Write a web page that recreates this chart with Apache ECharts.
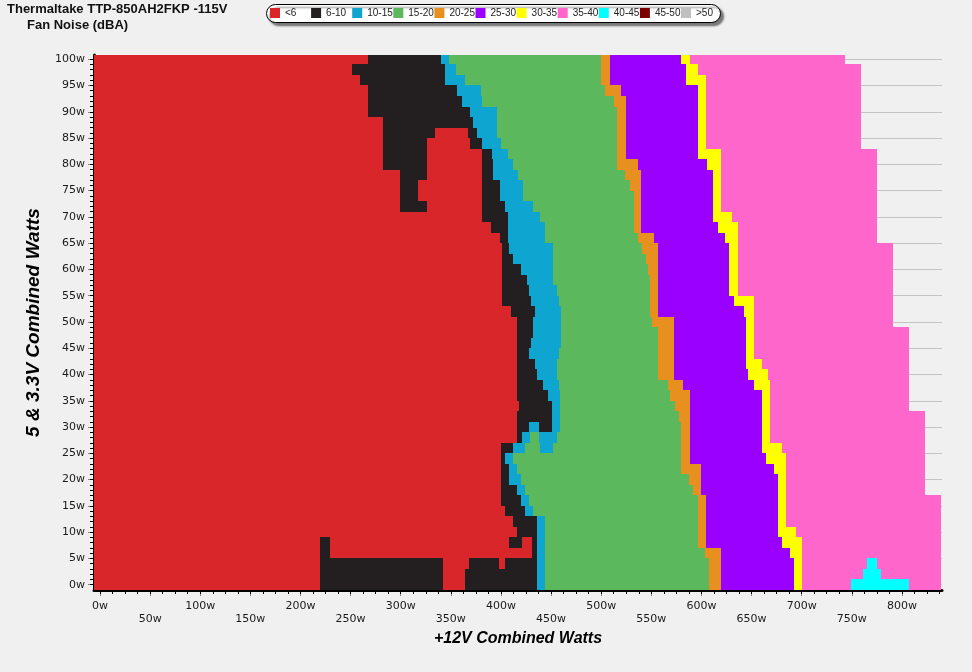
<!DOCTYPE html>
<html>
<head>
<meta charset="utf-8">
<script src="https://cdn.jsdelivr.net/npm/echarts@6/dist/echarts.min.js"></script>
<style>
  html, body { margin: 0; padding: 0; background: #f0f0f0; }
  #noise { width: 972px; height: 672px; }
</style>
</head>
<body>
<div id="noise"></div>
<script>
// noise classes (dBA) and their colours
const cats = ['<6', '6-10', '10-15', '15-20', '20-25', '25-30', '30-35', '35-40', '40-45', '45-50', '>50']
const colors = ['#d9262a', '#231f20', '#0ea5d1', '#5cb85c', '#e8901f', '#9900ff', '#ffff00', '#ff66cc', '#00ffff', '#7b0000', '#c0c0c0']

// tick labels
const xTicks = [0, 50, 100, 150, 200, 250, 300, 350, 400, 450, 500, 550, 600, 650, 700, 750, 800]
const yTicks = [0, 5, 10, 15, 20, 25, 30, 35, 40, 45, 50, 55, 60, 65, 70, 75, 80, 85, 90, 95, 100]

// each row = 5&3.3V load band (centre in W), 2W tall
// runs read left to right: class index, +12V watts where that class ends
const xStart = -6
const rowHeight = 2
const rowLoads = [0, 2, 4, 6, 8, 10, 12, 14, 16, 18, 20, 22, 24, 26, 28, 30, 32, 34, 36, 38, 40, 42, 44, 46, 48, 50,
  52, 54, 56, 58, 60, 62, 64, 66, 68, 70, 72, 74, 76, 78, 80, 82, 84, 86, 88, 90, 92, 94, 96, 98, 100]
const rowRuns = [
  [0, 219, 1, 342, 0, 364, 1, 436, 2, 444, 3, 608, 4, 620, 5, 692, 6, 700, 7, 749, 8, 807, 7, 839],
  [0, 219, 1, 342, 0, 364, 1, 436, 2, 444, 3, 608, 4, 620, 5, 692, 6, 700, 7, 761, 8, 779, 7, 839],
  [0, 219, 1, 342, 0, 368, 1, 398, 0, 404, 1, 436, 2, 444, 3, 608, 4, 620, 5, 692, 6, 700, 7, 765, 8, 775, 7, 839],
  [0, 219, 1, 229, 0, 431, 1, 436, 2, 444, 3, 604, 4, 620, 5, 688, 6, 700, 7, 839],
  [0, 219, 1, 229, 0, 408, 1, 421, 0, 431, 1, 436, 2, 444, 3, 597, 4, 605, 5, 680, 6, 700, 7, 839],
  [0, 416, 1, 436, 2, 444, 3, 597, 4, 605, 5, 676, 6, 694, 7, 839],
  [0, 412, 1, 436, 2, 444, 3, 597, 4, 605, 5, 676, 6, 684, 7, 839],
  [0, 404, 1, 424, 2, 432, 3, 597, 4, 605, 5, 676, 6, 684, 7, 839],
  [0, 400, 1, 420, 2, 428, 3, 597, 4, 605, 5, 676, 6, 684, 7, 839],
  [0, 400, 1, 416, 2, 424, 3, 592, 4, 600, 5, 676, 6, 684, 7, 823],
  [0, 400, 1, 408, 2, 420, 3, 588, 4, 600, 5, 676, 6, 684, 7, 823],
  [0, 400, 1, 408, 2, 416, 3, 580, 4, 600, 5, 672, 6, 684, 7, 823],
  [0, 400, 1, 404, 2, 412, 3, 580, 4, 589, 5, 664, 6, 684, 7, 823],
  [0, 400, 1, 412, 2, 424, 3, 439, 2, 452, 3, 580, 4, 589, 5, 660, 6, 680, 7, 823],
  [0, 416, 1, 421, 2, 429, 3, 438, 2, 456, 3, 580, 4, 589, 5, 660, 6, 668, 7, 823],
  [0, 416, 1, 428, 2, 438, 1, 451, 2, 459, 3, 580, 4, 589, 5, 660, 6, 668, 7, 823],
  [0, 416, 1, 451, 2, 459, 3, 578, 4, 589, 5, 660, 6, 668, 7, 823],
  [0, 418, 1, 451, 2, 459, 3, 574, 4, 589, 5, 660, 6, 668, 7, 807],
  [0, 416, 1, 447, 2, 459, 3, 569, 4, 589, 5, 660, 6, 668, 7, 807],
  [0, 416, 1, 442, 2, 458, 3, 567, 4, 582, 5, 652, 6, 668, 7, 807],
  [0, 416, 1, 436, 2, 456, 3, 557, 4, 573, 5, 646, 6, 666, 7, 807],
  [0, 416, 1, 434, 2, 456, 3, 557, 4, 573, 5, 644, 6, 660, 7, 807],
  [0, 416, 1, 428, 2, 458, 3, 557, 4, 573, 5, 644, 6, 652, 7, 807],
  [0, 416, 1, 430, 2, 460, 3, 557, 4, 573, 5, 644, 6, 652, 7, 807],
  [0, 416, 1, 432, 2, 460, 3, 557, 4, 573, 5, 644, 6, 652, 7, 807],
  [0, 416, 1, 432, 2, 460, 3, 551, 4, 573, 5, 644, 6, 652, 7, 791],
  [0, 410, 1, 434, 2, 460, 3, 549, 4, 557, 5, 642, 6, 652, 7, 791],
  [0, 401, 1, 430, 2, 458, 3, 549, 4, 557, 5, 632, 6, 652, 7, 791],
  [0, 401, 1, 428, 2, 456, 3, 549, 4, 557, 5, 628, 6, 636, 7, 791],
  [0, 401, 1, 426, 2, 452, 3, 549, 4, 557, 5, 628, 6, 636, 7, 791],
  [0, 401, 1, 420, 2, 452, 3, 547, 4, 557, 5, 628, 6, 636, 7, 791],
  [0, 401, 1, 412, 2, 452, 3, 545, 4, 557, 5, 628, 6, 636, 7, 791],
  [0, 401, 1, 408, 2, 452, 3, 541, 4, 557, 5, 628, 6, 636, 7, 791],
  [0, 399, 1, 407, 2, 444, 3, 537, 4, 553, 5, 624, 6, 636, 7, 775],
  [0, 390, 1, 407, 2, 444, 3, 533, 4, 540, 5, 617, 6, 636, 7, 775],
  [0, 381, 1, 407, 2, 439, 3, 533, 4, 540, 5, 612, 6, 630, 7, 775],
  [0, 299, 1, 326, 0, 381, 1, 404, 2, 432, 3, 533, 4, 540, 5, 612, 6, 620, 7, 775],
  [0, 299, 1, 317, 0, 381, 1, 399, 2, 422, 3, 533, 4, 540, 5, 612, 6, 620, 7, 775],
  [0, 299, 1, 317, 0, 381, 1, 399, 2, 422, 3, 529, 4, 540, 5, 612, 6, 620, 7, 775],
  [0, 299, 1, 326, 0, 381, 1, 392, 2, 417, 3, 524, 4, 540, 5, 612, 6, 620, 7, 775],
  [0, 282, 1, 326, 0, 381, 1, 392, 2, 412, 3, 516, 4, 537, 5, 606, 6, 620, 7, 775],
  [0, 282, 1, 326, 0, 381, 1, 391, 2, 407, 3, 516, 4, 525, 5, 597, 6, 620, 7, 775],
  [0, 282, 1, 326, 0, 369, 1, 381, 2, 400, 3, 516, 4, 525, 5, 597, 6, 605, 7, 759],
  [0, 282, 1, 334, 0, 367, 1, 376, 2, 396, 3, 516, 4, 525, 5, 597, 6, 605, 7, 759],
  [0, 282, 1, 372, 2, 396, 3, 516, 4, 525, 5, 597, 6, 605, 7, 759],
  [0, 267, 1, 369, 2, 396, 3, 516, 4, 525, 5, 597, 6, 605, 7, 759],
  [0, 267, 1, 361, 2, 381, 3, 513, 4, 525, 5, 597, 6, 605, 7, 759],
  [0, 267, 1, 356, 2, 380, 3, 504, 4, 520, 5, 597, 6, 605, 7, 759],
  [0, 259, 1, 344, 2, 364, 3, 500, 4, 509, 5, 585, 6, 605, 7, 759],
  [0, 251, 1, 344, 2, 355, 3, 500, 4, 509, 5, 585, 6, 597, 7, 759],
  [0, 267, 1, 340, 2, 348, 3, 500, 4, 509, 5, 580, 6, 589, 7, 743]
]

// split the runs into one rectangle list per noise class
const classData = cats.map(() => [])
rowRuns.forEach((runs, i) => {
  let from = xStart
  const y0 = rowLoads[i] - rowHeight / 2
  const y1 = rowLoads[i] + rowHeight / 2
  for (let j = 0; j < runs.length; j += 2) {
    classData[runs[j]].push([from, runs[j + 1], y0, y1])
    from = runs[j + 1]
  }
})

const minorX = []
for (let v = 0; v <= 840; v += 12.5) minorX.push(v)
const minorY = []
for (let v = 0; v <= 100; v += 1) minorY.push(v)

function renderCell (params, api) {
  const a = api.coord([api.value(0), api.value(3)])
  const b = api.coord([api.value(1), api.value(2)])
  const x0 = Math.round(a[0])
  const y0 = Math.round(a[1])
  return {
    type: 'rect',
    shape: { x: x0, y: y0, width: Math.round(b[0]) - x0, height: Math.round(b[1]) - y0 },
    style: { fill: api.visual('color') }
  }
}

const chart = echarts.init(document.getElementById('noise'))
const labelFont = { fontFamily: 'DejaVu Sans', fontSize: 11, color: '#1a1a1a' }
const nameFont = { fontFamily: 'Liberation Sans', fontSize: 16, fontWeight: 'bold', fontStyle: 'italic', color: '#000' }

// one small legend per class so the items sit on an even pitch
const legends = cats.map((c, i) => ({
  data: [c],
  left: 270 + i * 41.1,
  top: 8,
  padding: 0,
  itemWidth: 10,
  itemHeight: 10,
  icon: 'rect',
  selectedMode: false,
  z: 5,
  textStyle: { fontFamily: 'Liberation Sans', fontSize: 10, color: '#222' }
}))

chart.setOption({
  backgroundColor: '#f0f0f0',
  animation: false,
  title: [
    { text: 'Thermaltake TTP-850AH2FKP -115V', left: 7, top: 3, padding: 0,
      textStyle: { fontFamily: 'Liberation Sans', fontSize: 13, fontWeight: 'bold', color: '#111' } },
    { text: 'Fan Noise (dBA)', left: 27, top: 19, padding: 0,
      textStyle: { fontFamily: 'Liberation Sans', fontSize: 13, fontWeight: 'bold', color: '#111' } }
  ],
  graphic: [{
    type: 'rect',
    left: 266,
    top: 4,
    z: 1,
    shape: { width: 454, height: 18, r: 9 },
    style: {
      fill: '#fff',
      stroke: '#000',
      lineWidth: 1,
      shadowColor: 'rgba(0,0,0,0.5)',
      shadowBlur: 2,
      shadowOffsetX: 3,
      shadowOffsetY: 3
    }
  }],
  legend: legends,
  grid: { left: 94, right: 30, top: 55, bottom: 82, containLabel: false },
  xAxis: [
    {
      type: 'value',
      min: xStart,
      max: 840,
      name: '+12V Combined Watts',
      nameLocation: 'middle',
      nameGap: 36,
      nameTextStyle: nameFont,
      axisLine: { show: true, onZero: false, lineStyle: { color: '#000', width: 3 } },
      axisTick: { show: true, customValues: xTicks, length: 6, lineStyle: { color: '#888', width: 1 } },
      axisLabel: {
        customValues: xTicks,
        margin: 10,
        lineHeight: 13,
        ...labelFont,
        formatter: v => (v % 100 === 0 ? '' : '\n') + v + 'w'
      },
      splitLine: { show: false }
    },
    {
      type: 'value',
      min: xStart,
      max: 840,
      position: 'bottom',
      axisLine: { show: false, onZero: false },
      axisTick: { show: true, customValues: minorX, length: 4, lineStyle: { color: '#000', width: 1 } },
      axisLabel: { show: false },
      splitLine: { show: false }
    }
  ],
  yAxis: [
    {
      type: 'value',
      min: -1,
      max: 100.8,
      name: '5 & 3.3V Combined Watts',
      nameLocation: 'middle',
      nameGap: 51,
      nameTextStyle: { ...nameFont, fontSize: 19 },
      axisLine: { show: true, onZero: false, lineStyle: { color: '#000', width: 3 } },
      axisTick: { show: true, customValues: yTicks, length: 6, lineStyle: { color: '#888', width: 1 } },
      axisLabel: { customValues: yTicks, margin: 9, ...labelFont, formatter: v => v + 'w' },
      splitLine: { show: true, lineStyle: { color: '#c4c4c4', width: 1 } }
    },
    {
      type: 'value',
      min: -1,
      max: 100.8,
      position: 'left',
      axisLine: { show: false, onZero: false },
      axisTick: { show: true, customValues: minorY, length: 4, lineStyle: { color: '#000', width: 1 } },
      axisLabel: { show: false },
      splitLine: { show: false }
    }
  ],
  series: cats.map((c, i) => ({
    name: c,
    type: 'custom',
    renderItem: renderCell,
    clip: true,
    encode: { x: [0, 1], y: [2, 3] },
    itemStyle: { color: colors[i] },
    data: classData[i]
  }))
})
</script>
</body>
</html>
